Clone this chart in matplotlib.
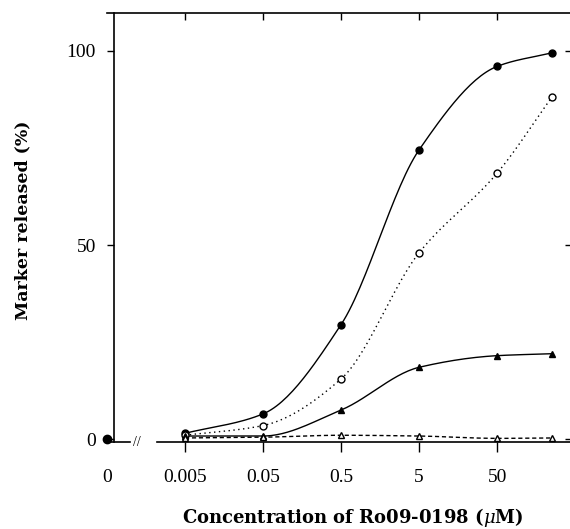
import matplotlib
matplotlib.use("Agg")
import matplotlib.pyplot as plt
import numpy as np

# concentrations of Ro09-0198 (uM) and % marker released
conc = [0.005, 0.05, 0.5, 5, 50, 250]
filled_circles = [1.5, 6.5, 29.5, 74.5, 96.0, 99.5]
open_circles = [1.0, 3.5, 15.5, 48.0, 68.5, 88.0]
filled_triangles = [0.8, 0.8, 7.5, 18.5, 21.5, 22.0]
open_triangles = [0.3, 0.5, 1.0, 0.8, 0.2, 0.3]

xticks = [0, 0.005, 0.05, 0.5, 5, 50]
xticklabels = ["0", "0.005", "0.05", "0.5", "5", "50"]
yticks = [0, 50, 100]

plt.rcParams["mathtext.fontset"] = "dejavuserif"


def smooth_curve(ax, x, y, n=30):
    # monotone cubic through the points, computed in the axis scale space
    tr = ax.xaxis.get_transform()
    u = tr.transform(np.asarray(x, float))
    y = np.asarray(y, float)
    h = np.diff(u)
    d = np.diff(y) / h
    m = np.zeros_like(y)
    m[0], m[-1] = d[0], d[-1]
    for i in range(1, len(y) - 1):
        if d[i - 1] * d[i] <= 0:
            m[i] = 0
        else:
            w1 = 2 * h[i] + h[i - 1]
            w2 = h[i] + 2 * h[i - 1]
            m[i] = (w1 + w2) / (w1 / d[i - 1] + w2 / d[i])
    uu, yy = [], []
    for i in range(len(h)):
        t = np.linspace(0, 1, n)
        h00 = 2 * t**3 - 3 * t**2 + 1
        h10 = t**3 - 2 * t**2 + t
        h01 = -2 * t**3 + 3 * t**2
        h11 = t**3 - t**2
        uu.append(u[i] + t * h[i])
        yy.append(h00 * y[i] + h10 * h[i] * m[i] + h01 * y[i + 1] + h11 * h[i] * m[i + 1])
    uu = np.concatenate(uu)
    yy = np.concatenate(yy)
    return tr.inverted().transform(uu), yy


def plot_series(ax, y, marker, fill, ls):
    xs, ys = smooth_curve(ax, conc, y)
    ax.plot(xs, ys, color="black", lw=1.0, ls=ls)
    ax.plot(conc, y, ls="none", marker=marker, ms=5, mew=1.0,
            mec="black", mfc="black" if fill else "white", zorder=3)


def main():
    fig = plt.figure(figsize=(5.7, 5.29), dpi=100)
    ax = fig.add_axes([0.1877, 0.164, 0.8158, 0.811])

    ax.set_xscale("symlog", linthresh=0.005, linscale=0.9)

    ax.set_xticks(xticks)
    ax.set_xticklabels(xticklabels)
    ax.xaxis.set_minor_locator(matplotlib.ticker.NullLocator())
    ax.set_yticks(yticks)
    ax.set_xlim(0, 456)
    ax.set_ylim(-0.8, 109.7)

    plot_series(ax, filled_circles, "o", True, "-")
    plot_series(ax, open_circles, "o", False, (0, (1, 2.5)))
    plot_series(ax, filled_triangles, "^", True, "-")
    plot_series(ax, open_triangles, "^", False, (0, (3, 2)))

    # the zero-concentration point, on the axis
    ax.plot([0], [0], ls="none", marker="o", ms=6, color="black", clip_on=False, zorder=4)

    # broken x axis; the y axis line sits a little right of zero
    ax.spines["left"].set_position(("outward", -5))
    ax.spines["bottom"].set_bounds(0.0032, 456)
    ax.plot([0, 0.0015], [-0.8, -0.8], color="black", lw=1.2, clip_on=False)
    ax.text(0.0019, -0.8, "//", ha="center", va="center", fontsize=10,
            fontfamily="Liberation Serif")

    for s in ax.spines.values():
        s.set_linewidth(1.2)

    ax.tick_params(axis="x", which="major", direction="out", length=7, width=1,
                   pad=12, labelsize=14, top=True, labeltop=False)
    ax.tick_params(axis="y", which="major", direction="out", length=5, width=1,
                   pad=8, labelsize=14, right=True)
    for lab in ax.get_xticklabels() + ax.get_yticklabels():
        lab.set_fontfamily("Liberation Serif")

    # top and right ticks point inward
    for t in ax.xaxis.get_major_ticks():
        t.tick2line.set_marker(matplotlib.lines.TICKDOWN)
        t.tick2line.set_markersize(5)
    ax.xaxis.get_major_ticks()[0].tick1line.set_visible(False)
    ax.xaxis.get_major_ticks()[0].tick2line.set_visible(False)
    for t in ax.yaxis.get_major_ticks():
        t.tick2line.set_marker(matplotlib.lines.TICKLEFT)
        t.tick2line.set_markersize(5)

    ax.set_xlabel(r"Concentration of Ro09-0198 ($\mathit{\mu}$M)", fontsize=13,
                  fontweight="bold", fontfamily="DejaVu Serif")
    ax.xaxis.set_label_coords(0.529, -0.148)
    ax.set_ylabel("Marker released (%)", fontsize=12.5, fontweight="bold",
                  fontfamily="DejaVu Serif")
    ax.yaxis.set_label_coords(-0.163, 0.518)

    fig.savefig("out.png", dpi=100)


if __name__ == "__main__":
    main()
